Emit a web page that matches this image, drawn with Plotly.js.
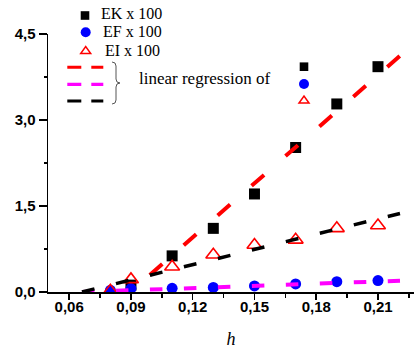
<!DOCTYPE html>
<html><head><meta charset="utf-8">
<script src="https://cdn.plot.ly/plotly-3.0.1.min.js"></script>
<style>html,body{margin:0;padding:0;background:#fff}</style>
</head><body><div id="chart" style="width:414px;height:350px"></div>
<script>
// ---- data ----
const h   = [0.08, 0.09, 0.11, 0.13, 0.15, 0.17, 0.19, 0.21];
const EK  = [null, 0.12, 0.63, 1.11, 1.71, 2.52, 3.28, 3.93];
const EF  = [0.03, 0.06, 0.065, 0.08, 0.105, 0.14, 0.18, 0.20];
const EI  = [0.02, 0.22, 0.44, 0.65, 0.82, 0.91, 1.11, 1.16];
const fitH  = [0.0662, 0.2207];
const fitEK = [-0.74, 4.12];
const fitEF = [0.0, 0.197];
const fitEI = [0.0, 1.37];
const legendNames = ['EK x 100', 'EF x 100', 'EI x 100'];
const regressionText = 'linear regression of';
const xTitle = 'h';

// ---- layout geometry ----
const W = 414, H = 350, L = 48, R = 0, T = 34, B = 58;
const pw = W - L - R, ph = H - T - B;
const px = x => (x - L) / pw;
const py = y => (H - B - y) / ph;

const traces = [
  {x: h, y: EK, name: legendNames[0], mode: 'markers', type: 'scatter',
   marker: {symbol: 'square', size: 11, color: '#000000', line: {width: 0}}},
  {x: h, y: EF, name: legendNames[1], mode: 'markers', type: 'scatter',
   marker: {symbol: 'circle', size: 11, color: '#0000ff', line: {width: 0}}},
  {x: h, y: EI, name: legendNames[2], mode: 'markers', type: 'scatter',
   marker: {symbol: 'triangle-up-open', size: 13, color: '#ff0000', line: {width: 1.6, color: '#ff0000'}}},
  {x: fitH, y: fitEK, name: 'fit EK', mode: 'lines', type: 'scatter',
   line: {color: '#ff0000', width: 4, dash: '16.6px,28.5px'}},
  {x: fitH, y: fitEF, name: 'fit EF', mode: 'lines', type: 'scatter',
   line: {color: '#ff00ff', width: 4, dash: '12.5px,21.5px'}},
  {x: fitH, y: fitEI, name: 'fit EI', mode: 'lines', type: 'scatter',
   line: {color: '#000000', width: 3.5, dash: '12.9px,22.1px'}}
];

const tickFont = {family: 'Liberation Sans, Arial, sans-serif', size: 15, color: '#000', weight: 'bold'};
const serif = 'Liberation Serif, Times New Roman, serif';

const shapes = [
  // legend keys
  {type: 'rect', xref: 'paper', yref: 'paper', x0: px(80.7), x1: px(89.3), y0: py(19.8), y1: py(11.2),
   fillcolor: '#000', line: {width: 0}},
  {type: 'circle', xref: 'paper', yref: 'paper', x0: px(80.7), x1: px(90.7), y0: py(37.3), y1: py(27.3),
   fillcolor: '#0000ff', line: {width: 0}},
  {type: 'path', xref: 'paper', yref: 'paper',
   path: `M${px(80.7)},${py(53.5)} L${px(90.7)},${py(53.5)} L${px(85.7)},${py(46.5)} Z`,
   line: {color: '#ff0000', width: 1.5}},
  {type: 'line', xref: 'paper', yref: 'paper', x0: px(67.3), x1: px(103.3), y0: py(67.3), y1: py(67.3),
   line: {color: '#ff0000', width: 3, dash: '14px,10px'}},
  {type: 'line', xref: 'paper', yref: 'paper', x0: px(67.3), x1: px(103.3), y0: py(84.3), y1: py(84.3),
   line: {color: '#ff00ff', width: 3.3, dash: '14px,10px'}},
  {type: 'line', xref: 'paper', yref: 'paper', x0: px(67.3), x1: px(103.3), y0: py(101), y1: py(101),
   line: {color: '#000000', width: 3, dash: '14px,10px'}},
  // brace
  {type: 'path', xref: 'paper', yref: 'paper',
   path: `M${px(112)},${py(62)} Q${px(116)},${py(62)} ${px(116)},${py(66)} L${px(116)},${py(79)} ` +
         `Q${px(116)},${py(83)} ${px(120)},${py(83)} Q${px(116)},${py(83)} ${px(116)},${py(87)} ` +
         `L${px(116)},${py(100)} Q${px(116)},${py(104)} ${px(112)},${py(104)}`,
   line: {color: '#555', width: 1}},
  // legend marker column after the text
  {type: 'rect', xref: 'paper', yref: 'paper', x0: px(299.7), x1: px(308.3), y0: py(71), y1: py(62.4),
   fillcolor: '#000', line: {width: 0}},
  {type: 'circle', xref: 'paper', yref: 'paper', x0: px(299), x1: px(309), y0: py(89), y1: py(79),
   fillcolor: '#0000ff', line: {width: 0}},
  {type: 'path', xref: 'paper', yref: 'paper',
   path: `M${px(299)},${py(103)} L${px(309)},${py(103)} L${px(304)},${py(96)} Z`,
   line: {color: '#ff0000', width: 1.5}}
];

const ann = (text, x, y, size) => ({text, xref: 'paper', yref: 'paper', x: px(x), y: py(y),
  xanchor: 'left', yanchor: 'middle', showarrow: false,
  font: {family: serif, size: size || 16, color: '#000'}});

const layout = {
  width: W, height: H,
  margin: {l: L, r: R, t: T, b: B, pad: 0},
  paper_bgcolor: '#fff', plot_bgcolor: '#fff',
  separators: ',.',
  showlegend: false,
  xaxis: {
    range: [0.0497, 0.2275], tick0: 0.06, dtick: 0.03, tickformat: '.2f',
    showgrid: false, zeroline: false, showline: true, linecolor: '#000', linewidth: 2,
    ticks: 'outside', ticklen: 6, tickwidth: 1.5, tickcolor: '#000', tickfont: tickFont,
    ticklabelstandoff: -6,
    minor: {dtick: 0.015, tick0: 0.06, ticks: 'outside', ticklen: 4, tickwidth: 1.5, tickcolor: '#000', showgrid: false},
    title: {text: xTitle, font: {family: serif, size: 18, style: 'italic', color: '#000'}, standoff: 18},
    fixedrange: true
  },
  yaxis: {
    range: [0, 4.5], tick0: 0, dtick: 1.5, tickformat: '.1f',
    showgrid: false, zeroline: false, showline: true, linecolor: '#000', linewidth: 1.5,
    ticks: 'outside', ticklen: 8, tickwidth: 1.5, tickcolor: '#000', tickfont: tickFont,
    minor: {dtick: 0.75, ticks: 'outside', ticklen: 3, tickwidth: 1.5, tickcolor: '#000', showgrid: false},
    fixedrange: true
  },
  shapes,
  annotations: [
    ann(legendNames[0], 99, 13),
    ann(legendNames[1], 101, 31.5),
    ann(legendNames[2], 103, 50),
    ann(regressionText, 137, 78, 17)
  ]
};

Plotly.newPlot('chart', traces, layout, {staticPlot: true, displayModeBar: false});
</script>
</body></html>
